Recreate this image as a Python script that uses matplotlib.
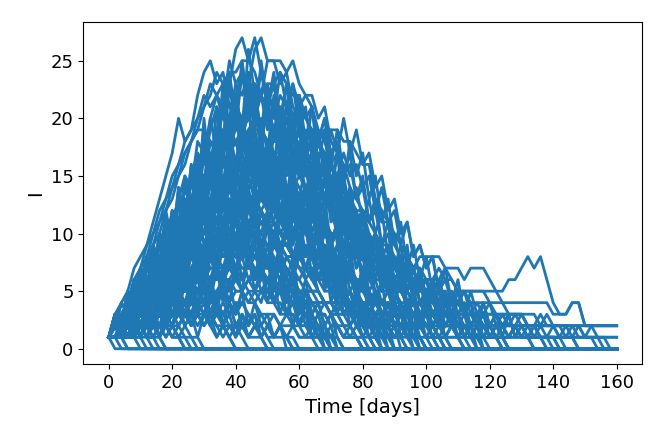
import numpy as np
import matplotlib
matplotlib.use("Agg")
import matplotlib.pyplot as plt

# infected count I per run, sampled every 2 days from day 0
# (after the last value a run just stays where it ended)
dt = 2
t_end = 160

run_01 = [1, 2, 2, 3, 5, 4, 6, 7, 9, 8, 11, 13, 12, 15, 17, 16, 19, 21, 20, 23,
          26, 27, 25, 27, 24, 22, 23, 20, 19, 17, 16, 14, 15, 12, 11, 9, 10, 8, 7, 6,
          5, 5, 4, 3, 3, 2, 2, 1, 1, 0]
run_02 = [1, 1, 2, 2, 3, 3, 4, 6, 5, 7, 8, 10, 9, 12, 14, 13, 16, 18, 17, 20,
          22, 24, 23, 26, 27, 25, 25, 23, 24, 21, 20, 18, 19, 16, 15, 13, 12, 10, 11, 9,
          8, 7, 6, 6, 5, 4, 3, 3, 2, 2, 1, 1, 1, 0]
run_03 = [1, 3, 4, 5, 7, 8, 9, 11, 13, 15, 17, 20, 18, 19, 22, 24, 25, 23, 24, 21,
          22, 19, 18, 17, 15, 14, 12, 11, 10, 8, 7, 7, 6, 5, 4, 4, 3, 2, 2, 1, 1, 0]
run_04 = [1, 1, 1, 2, 2, 3, 4, 4, 5, 6, 8, 9, 11, 10, 13, 14, 16, 15, 18, 19,
          21, 20, 22, 23, 22, 25, 25, 25, 24, 25, 23, 22, 21, 19, 18, 16, 17, 14, 13, 12,
          10, 9, 9, 7, 6, 5, 5, 4, 3, 3, 2, 2, 1, 1, 0]
run_05 = [1, 1, 2, 1, 2, 2, 3, 3, 4, 5, 5, 6, 7, 7, 8, 9, 10, 9, 11, 12,
          13, 12, 14, 15, 14, 16, 17, 16, 18, 17, 17, 18, 19, 18, 19, 19, 19, 18, 18, 17,
          16, 16, 13, 12, 11, 10, 9, 8, 7, 8, 8, 8, 8, 7, 7, 7, 6, 7, 7, 7,
          6, 5, 5, 6, 6, 7, 8, 7, 8, 6, 4, 3, 3, 4, 4, 2, 2, 2, 2, 2, 2]
run_06 = [1, 1, 2, 2, 3, 2, 4, 3, 5, 6, 5, 8, 7, 9, 11, 10, 13, 12, 14, 16,
          15, 18, 17, 20, 19, 21, 20, 22, 21, 23, 21, 22, 22, 20, 21, 18, 17, 16, 14, 13,
          12, 10, 9, 8, 7, 6, 5, 4, 3, 3, 2, 1, 1, 0]
run_07 = [1, 2, 3, 3, 5, 4, 7, 6, 9, 11, 10, 13, 15, 14, 18, 17, 20, 22, 21, 25,
          23, 24, 21, 22, 19, 18, 16, 17, 14, 12, 13, 10, 9, 8, 8, 6, 5, 4, 3, 3,
          2, 1, 1, 0]
run_08 = [1, 1, 2, 3, 3, 4, 6, 5, 7, 9, 8, 11, 13, 12, 15, 17, 16, 19, 21, 20,
          23, 22, 24, 21, 24, 22, 21, 19, 20, 17, 15, 16, 12, 13, 10, 9, 7, 8, 6, 5,
          4, 4, 3, 2, 2, 1, 1, 0]
run_09 = [1, 2, 3, 4, 6, 7, 9, 10, 12, 13, 15, 16, 18, 19, 20, 22, 21, 22, 20, 19,
          18, 16, 15, 13, 12, 11, 9, 8, 7, 6, 5, 5, 4, 3, 3, 2, 2, 1, 1, 1, 0]
run_10 = [1, 1, 2, 1, 3, 2, 4, 3, 5, 4, 7, 6, 9, 8, 11, 10, 13, 15, 14, 17,
          16, 19, 18, 20, 19, 21, 19, 21, 18, 20, 17, 18, 15, 16, 13, 12, 10, 11, 8, 9,
          6, 7, 5, 4, 5, 3, 2, 3, 1, 2, 1, 0]
run_11 = [1, 2, 1, 3, 4, 3, 6, 5, 8, 7, 10, 9, 12, 11, 14, 13, 16, 15, 18, 17,
          18, 16, 17, 14, 15, 12, 13, 10, 11, 8, 9, 6, 7, 5, 4, 4, 3, 2, 2, 1, 1, 1, 0]
run_12 = [1, 1, 2, 1, 2, 3, 2, 4, 3, 5, 4, 6, 5, 7, 6, 9, 8, 10, 9, 12,
          11, 13, 12, 14, 13, 16, 14, 16, 15, 17, 15, 16, 14, 15, 13, 14, 11, 12, 10, 9,
          10, 7, 8, 6, 7, 5, 6, 4, 3, 4, 3, 3, 2, 3, 3, 2, 2, 2, 2, 1, 1, 1, 0]
run_13 = [1, 3, 2, 4, 6, 5, 8, 7, 10, 9, 12, 11, 14, 13, 15, 14, 15, 12, 13, 10,
          11, 8, 9, 6, 7, 5, 4, 4, 3, 3, 2, 2, 1, 1, 0]
run_14 = [1, 2, 1, 2, 3, 2, 4, 3, 5, 4, 6, 5, 7, 6, 8, 7, 9, 8, 10, 9,
          11, 10, 12, 11, 12, 10, 11, 9, 10, 8, 9, 7, 8, 6, 7, 5, 6, 4, 5, 3,
          4, 2, 3, 2, 1, 2, 1, 0]
run_15 = [1, 2, 1, 3, 2, 4, 3, 5, 4, 6, 5, 7, 6, 8, 7, 9, 8, 10, 9, 10,
          9, 10, 8, 9, 7, 8, 6, 7, 5, 6, 4, 5, 3, 4, 2, 3, 2, 1, 2, 1, 0]
run_16 = [1, 1, 1, 2, 2, 2, 3, 3, 3, 4, 4, 5, 5, 5, 6, 6, 7, 7, 6, 7,
          6, 6, 5, 5, 5, 4, 4, 3, 3, 3, 2, 2, 2, 1, 1, 1, 0]
run_17 = [1, 2, 2, 2, 3, 3, 3, 4, 4, 4, 5, 5, 4, 5, 4, 4, 3, 3, 3, 2,
          2, 2, 1, 1, 1, 0]
run_18 = [1, 0]
run_19 = [1, 2, 1, 0]
run_20 = [1, 1, 2, 2, 1, 1, 0]
run_21 = [1, 2, 3, 2, 3, 2, 1, 1, 0]
run_22 = [1, 1, 0]
run_23 = [1, 1, 2, 2, 3, 3, 4, 4, 5, 5, 6, 6, 7, 8, 8, 9, 9, 10, 10, 11,
          11, 12, 12, 12, 13, 12, 13, 12, 12, 11, 11, 10, 10, 9, 9, 8, 8, 7, 7, 6,
          6, 6, 5, 5, 5, 4, 4, 4, 3, 3, 3, 3, 3, 2, 2, 2, 2, 2, 2, 2,
          2, 2, 2, 1, 2, 2, 2, 2, 2, 2, 2, 2, 2, 2, 2, 2, 2, 2, 2, 2, 2]
run_24 = [1, 2, 2, 3, 4, 5, 5, 6, 7, 8, 9, 10, 11, 11, 12, 13, 13, 14, 14, 14,
          13, 13, 12, 12, 11, 10, 10, 9, 8, 8, 7, 7, 6, 6, 5, 5, 4, 4, 4, 3,
          3, 3, 3, 4, 3, 3, 3, 2, 3, 3, 3, 3, 3, 3, 3, 3, 3, 3, 3, 3,
          3, 3, 2, 2, 2, 2, 2, 2, 1, 1, 1, 1, 2, 2, 1, 1, 1, 1, 1, 1, 1]
run_25 = [1, 1, 2, 2, 3, 3, 4, 5, 5, 6, 7, 8, 9, 10, 11, 11, 12, 13, 13, 14,
          15, 15, 16, 16, 17, 17, 18, 18, 17, 18, 17, 17, 16, 15, 15, 14, 13, 12, 11, 11,
          10, 9, 9, 8, 8, 7, 7, 6, 6, 6, 5, 6, 6, 7, 6, 5, 5, 5, 5, 5,
          4, 4, 4, 4, 4, 4, 4, 4, 4, 4, 3, 3, 3, 4, 4, 2, 2, 1, 1, 0]
run_26 = [1, 1, 1, 2, 2, 3, 3, 3, 4, 5, 5, 6, 7, 7, 8, 9, 10, 11, 11, 12,
          13, 14, 14, 15, 16, 16, 17, 17, 18, 18, 19, 18, 17, 18, 17, 16, 15, 14, 13, 12,
          12, 11, 10, 9, 9, 8, 7, 7, 6, 6, 6, 6, 7, 6, 6, 5, 5, 5, 5, 5,
          5, 5, 4, 3, 3, 3, 2, 2, 2, 2, 2, 1, 1, 1, 0]
run_27 = [1, 1, 2, 3, 4, 4, 5, 6, 7, 8, 9, 11, 12, 12, 13, 15, 16, 16, 17, 18,
          19, 19, 20, 19, 19, 18, 17, 17, 16, 15, 14, 13, 13, 12, 11, 10, 10, 9, 8, 8,
          7, 7, 6, 6, 5, 5, 5, 4, 4, 4, 4, 3, 3, 3, 4, 4, 3, 3, 3, 3,
          3, 3, 3, 3, 3, 3, 2, 2, 2, 2, 2, 2, 2, 2, 2, 1, 2, 2, 2, 2, 2]
run_28 = [1, 2, 2, 4, 5, 6, 8, 9, 11, 12, 14, 15, 17, 18, 20, 21, 23, 22, 23, 21,
          20, 19, 17, 16, 14, 13, 11, 10, 9, 8, 7, 6, 5, 4, 4, 3, 2, 2, 1, 1, 0]
run_29 = [1, 1, 1, 2, 2, 3, 4, 4, 5, 6, 7, 8, 9, 10, 11, 12, 14, 15, 16, 17,
          18, 18, 19, 20, 19, 20, 18, 18, 17, 16, 15, 14, 13, 12, 10, 9, 8, 8, 7, 6,
          5, 4, 4, 3, 3, 2, 2, 1, 1, 0]
run_30 = [1, 1, 1, 1, 2, 2, 2, 3, 3, 4, 4, 5, 5, 6, 7, 7, 8, 9, 10, 10,
          11, 12, 13, 13, 14, 15, 15, 16, 16, 17, 17, 17, 16, 16, 15, 14, 14, 13, 12, 11,
          10, 9, 8, 8, 7, 6, 5, 5, 4, 4, 3, 3, 2, 2, 2, 1, 1, 0]
run_31 = [1, 2, 3, 4, 5, 7, 8, 10, 11, 13, 14, 16, 17, 18, 19, 19, 18, 17, 16, 15,
          13, 12, 11, 10, 9, 8, 7, 6, 5, 4, 4, 3, 3, 2, 2, 1, 1, 0]
run_32 = [1, 1, 2, 3, 3, 4, 5, 6, 6, 7, 8, 9, 10, 10, 11, 12, 12, 13, 13, 13,
          12, 12, 11, 10, 10, 9, 8, 7, 6, 6, 5, 4, 4, 3, 3, 2, 2, 1, 1, 1, 0]
run_33 = [1, 1, 1, 1, 2, 2, 2, 3, 3, 3, 3, 4, 4, 5, 5, 5, 6, 6, 7, 7,
          7, 8, 8, 8, 9, 9, 9, 9, 8, 8, 8, 7, 7, 6, 6, 6, 5, 5, 4, 4,
          4, 3, 3, 3, 2, 2, 2, 1, 1, 1, 0]
run_34 = [1, 1, 2, 2, 3, 4, 5, 5, 6, 7, 9, 10, 11, 12, 14, 15, 16, 17, 18, 19,
          20, 20, 21, 20, 19, 18, 17, 16, 14, 13, 12, 10, 9, 8, 7, 6, 5, 4, 4, 3,
          3, 2, 2, 1, 1, 0]
run_35 = [1, 2, 3, 4, 5, 6, 7, 9, 10, 12, 13, 15, 16, 18, 19, 21, 22, 24, 23, 24,
          24, 25, 25, 24, 22, 21, 19, 18, 16, 15, 13, 12, 10, 9, 8, 7, 6, 5, 4, 3,
          3, 2, 2, 1, 1, 0]
run_36 = [1, 1, 1, 1, 1, 2, 2, 2, 2, 3, 3, 3, 4, 4, 4, 5, 5, 5, 6, 6,
          7, 7, 7, 8, 8, 8, 9, 9, 9, 10, 10, 10, 11, 11, 11, 10, 10, 10, 9, 9,
          8, 8, 7, 7, 6, 6, 5, 5, 4, 4, 4, 3, 3, 3, 2, 2, 2, 2, 1, 1,
          1, 1, 0]
run_37 = [1, 1, 1, 1, 2, 2, 2, 2, 3, 3, 3, 4, 4, 5, 5, 6, 6, 7, 7, 8,
          9, 9, 10, 10, 11, 11, 12, 12, 13, 13, 13, 14, 14, 14, 13, 13, 12, 12, 11, 10,
          9, 9, 8, 7, 7, 6, 5, 5, 4, 4, 3, 3, 3, 2, 2, 2, 1, 1, 1, 0]
run_38 = [1, 1, 2, 2, 3, 3, 4, 4, 5, 5, 6, 6, 7, 7, 8, 8, 7, 7, 6, 6,
          5, 5, 4, 4, 3, 3, 3, 2, 2, 2, 1, 1, 1, 0]
run_39 = [1, 1, 1, 2, 2, 3, 3, 4, 5, 6, 6, 7, 8, 9, 11, 12, 13, 14, 16, 17,
          18, 19, 20, 21, 22, 23, 23, 24, 23, 22, 22, 20, 19, 18, 16, 15, 13, 12, 11, 10,
          9, 8, 7, 6, 5, 5, 4, 3, 3, 2, 2, 1, 1, 0]
run_40 = [1, 1, 2, 2, 2, 3, 3, 3, 4, 4, 4, 3, 3, 4, 3, 3, 3, 2, 2, 2,
          2, 2, 1, 2, 2, 1, 1, 1, 1, 0]
run_41 = [1, 1, 1, 2, 2, 2, 3, 3, 4, 4, 5, 5, 6, 6, 7, 8, 8, 9, 9, 10,
          10, 11, 12, 12, 12, 13, 13, 14, 14, 14, 15, 14, 14, 13, 13, 12, 12, 11, 11, 10,
          9, 9, 8, 8, 7, 7, 6, 6, 5, 5, 5, 4, 5, 4, 4, 4, 5, 4, 4, 4,
          4, 3, 3, 3, 3, 3, 3, 3, 2, 3, 2, 2, 2, 1, 1, 1, 1, 1, 0]
run_42 = [1, 1, 2, 2, 3, 3, 3, 4, 5, 5, 6, 7, 7, 8, 9, 10, 10, 11, 12, 12,
          13, 13, 14, 14, 15, 15, 15, 15, 14, 14, 13, 13, 12, 12, 11, 10, 10, 9, 9, 8,
          8, 7, 7, 6, 6, 5, 5, 5, 4, 4, 4, 4, 3, 3, 3, 4, 3, 3, 3, 2,
          2, 2, 3, 2, 2, 2, 1, 1, 1, 1, 1, 0]
run_43 = [1, 3, 2, 5, 3, 6, 4, 8, 5, 9, 7, 11, 8, 13, 10, 15, 12, 17, 14, 19,
          16, 20, 17, 19, 15, 18, 13, 16, 11, 14, 9, 12, 8, 10, 6, 8, 4, 6, 3, 4,
          2, 3, 1, 2, 0]
run_44 = [1, 2, 1, 3, 2, 4, 3, 6, 4, 7, 5, 9, 7, 11, 9, 13, 11, 15, 13, 17,
          15, 19, 17, 21, 19, 23, 20, 24, 21, 23, 19, 21, 17, 19, 15, 17, 12, 14, 10, 12,
          8, 10, 6, 8, 5, 6, 3, 4, 2, 3, 1, 1, 0]
run_45 = [1, 1, 2, 1, 3, 2, 3, 2, 4, 3, 5, 4, 6, 5, 8, 6, 9, 7, 10, 9,
          12, 10, 13, 11, 15, 12, 16, 14, 17, 15, 18, 16, 17, 15, 16, 14, 15, 12, 14, 11,
          12, 9, 10, 8, 9, 6, 7, 5, 6, 4, 5, 3, 4, 2, 3, 1, 2, 1, 0]
run_46 = [1, 3, 2, 4, 3, 6, 4, 7, 6, 9, 7, 11, 9, 13, 11, 15, 12, 14, 10, 13,
          9, 11, 7, 9, 6, 8, 4, 6, 3, 5, 2, 3, 1, 2, 1, 0]
run_47 = [1, 2, 4, 3, 6, 5, 8, 6, 10, 8, 12, 10, 14, 12, 16, 14, 18, 17, 21, 18,
          20, 17, 19, 15, 17, 13, 15, 11, 13, 9, 11, 8, 9, 6, 7, 5, 6, 3, 4, 2,
          3, 1, 2, 0]
run_48 = [1, 1, 1, 2, 1, 2, 2, 3, 2, 3, 3, 4, 3, 5, 4, 6, 5, 7, 6, 8,
          7, 9, 8, 10, 8, 11, 9, 12, 10, 12, 11, 13, 11, 13, 12, 13, 11, 12, 10, 11,
          9, 10, 8, 9, 6, 8, 5, 7, 4, 6, 3, 5, 2, 4, 2, 3, 1, 2, 1, 0]
run_49 = [1, 2, 3, 2, 5, 3, 6, 5, 8, 6, 10, 8, 12, 10, 14, 12, 16, 14, 19, 16,
          21, 18, 23, 20, 22, 19, 21, 17, 19, 15, 17, 13, 15, 11, 13, 9, 11, 7, 9, 5,
          7, 4, 5, 3, 4, 2, 2, 1, 0]
run_50 = [1, 2, 1, 3, 2, 4, 3, 5, 4, 6, 5, 7, 6, 8, 7, 9, 8, 10, 8, 9,
          7, 8, 6, 7, 5, 6, 4, 5, 3, 4, 2, 3, 1, 2, 0]
run_51 = [1, 1, 2, 1, 3, 2, 4, 3, 5, 4, 6, 5, 8, 6, 9, 8, 11, 9, 13, 11,
          14, 12, 16, 14, 17, 15, 19, 17, 20, 18, 19, 17, 18, 15, 17, 13, 15, 12, 13, 10,
          11, 8, 10, 7, 8, 5, 7, 4, 5, 3, 4, 2, 3, 1, 2, 1, 0]
run_52 = [1, 1, 1, 2, 1, 2, 2, 3, 2, 4, 3, 4, 3, 5, 4, 6, 5, 7, 6, 8,
          7, 9, 8, 10, 9, 11, 10, 12, 11, 13, 12, 14, 13, 15, 14, 16, 15, 17, 15, 16,
          14, 15, 12, 14, 11, 12, 9, 11, 8, 9, 7, 8, 5, 7, 4, 6, 3, 5, 3, 4,
          2, 3, 2, 3, 1, 2, 1, 0]
run_53 = [1, 2, 1, 3, 2, 4, 3, 5, 4, 6, 4, 5, 3, 5, 3, 4, 2, 4, 2, 3,
          1, 3, 2, 3, 1, 2, 1, 2, 1, 0]
run_54 = [1, 3, 2, 5, 4, 7, 5, 9, 7, 11, 9, 14, 11, 16, 13, 19, 15, 21, 18, 24,
          20, 25, 21, 23, 18, 21, 16, 19, 13, 16, 11, 13, 9, 11, 7, 9, 5, 6, 3, 4,
          2, 3, 1, 0]
run_55 = [1, 2, 1, 3, 2, 5, 3, 6, 4, 8, 6, 9, 7, 11, 9, 13, 10, 14, 12, 16,
          14, 17, 15, 19, 16, 18, 15, 17, 13, 15, 11, 14, 10, 12, 8, 10, 6, 8, 5, 6,
          3, 5, 2, 3, 1, 2, 0]
run_56 = [1, 1, 2, 1, 3, 2, 3, 2, 4, 3, 5, 4, 6, 5, 7, 6, 8, 7, 9, 8,
          10, 9, 11, 9, 12, 10, 11, 9, 10, 8, 9, 7, 8, 6, 7, 5, 6, 4, 5, 3,
          4, 2, 3, 1, 2, 0]
run_57 = [1, 2, 3, 2, 4, 3, 5, 4, 7, 5, 8, 7, 10, 8, 11, 10, 13, 11, 14, 12,
          15, 13, 16, 14, 15, 12, 14, 11, 13, 10, 11, 8, 10, 7, 8, 5, 7, 4, 5, 3,
          4, 2, 3, 1, 0]
run_58 = [1, 1, 2, 1, 2, 2, 3, 2, 4, 3, 5, 4, 7, 5, 8, 7, 10, 8, 11, 10,
          13, 11, 15, 13, 17, 15, 19, 17, 21, 19, 22, 20, 21, 18, 20, 17, 18, 15, 16, 13,
          14, 11, 12, 9, 10, 7, 8, 6, 7, 5, 6, 4, 5, 3, 4, 2, 3, 1, 2, 0]
run_59 = [1, 1, 1, 1, 2, 1, 2, 2, 3, 2, 3, 3, 4, 3, 4, 4, 5, 4, 5, 5,
          6, 5, 6, 6, 7, 6, 7, 7, 8, 7, 8, 7, 8, 8, 9, 8, 9, 8, 9, 8,
          9, 7, 8, 7, 8, 6, 7, 6, 7, 5, 6, 5, 6, 4, 5, 4, 5, 3, 4, 3,
          4, 2, 3, 2, 3, 2, 2, 1, 2, 1, 1, 0]
run_60 = [1, 1, 2, 1, 2, 3, 2, 3, 4, 3, 4, 5, 4, 5, 4, 5, 3, 4, 3, 4,
          2, 3, 2, 3, 1, 2, 1, 2, 1, 1, 0]
run_61 = [1, 3, 2, 5, 4, 7, 5, 9, 7, 11, 9, 13, 11, 15, 13, 17, 14, 16, 12, 15,
          11, 13, 9, 11, 7, 9, 6, 7, 4, 6, 3, 4, 2, 3, 1, 2, 0]
run_62 = [1, 1, 2, 1, 3, 2, 4, 2, 4, 3, 5, 3, 6, 4, 7, 5, 8, 6, 9, 7,
          10, 8, 11, 9, 12, 10, 13, 11, 14, 12, 13, 11, 13, 10, 12, 9, 11, 8, 10, 7,
          9, 6, 8, 5, 7, 4, 6, 3, 5, 2, 4, 2, 3, 1, 2, 1, 0]
run_63 = [1, 2, 4, 3, 5, 4, 7, 6, 9, 7, 11, 9, 13, 11, 15, 13, 17, 15, 19, 17,
          22, 19, 26, 22, 24, 21, 23, 19, 21, 17, 19, 15, 17, 13, 15, 11, 12, 9, 10, 7,
          8, 5, 6, 4, 5, 3, 3, 2, 2, 1, 0]
run_64 = [1, 1, 1, 1, 1, 2, 1, 2, 2, 2, 3, 2, 3, 3, 4, 3, 4, 4, 5, 4,
          5, 5, 6, 5, 6, 6, 7, 6, 8, 7, 9, 8, 10, 9, 10, 9, 11, 9, 11, 10,
          11, 9, 10, 8, 9, 7, 8, 6, 7, 5, 6, 4, 5, 3, 4, 3, 4, 2, 3, 2,
          2, 1, 1, 0]
run_65 = [1, 1, 1, 2, 1, 2, 2, 3, 3, 4, 3, 5, 4, 6, 5, 7, 6, 8, 7, 9,
          8, 10, 9, 11, 10, 12, 11, 14, 12, 15, 13, 16, 15, 18, 16, 19, 17, 20, 17, 19,
          16, 17, 14, 15, 12, 13, 10, 11, 8, 9, 7, 8, 5, 6, 4, 5, 3, 4, 2, 3,
          1, 2, 1, 0]
run_66 = [1, 2, 3, 2, 4, 3, 5, 4, 6, 5, 8, 6, 7, 5, 6, 4, 6, 4, 5, 3,
          4, 2, 3, 2, 2, 1, 0]
run_67 = [1, 1, 2, 2, 3, 3, 4, 5, 6, 6, 7, 8, 9, 9, 10, 11, 11, 12, 12, 13,
          12, 13, 12, 11, 11, 10, 10, 9, 9, 8, 8, 7, 7, 6, 6, 5, 5, 4, 5, 4,
          4, 3, 4, 3, 3, 3, 2, 3, 2, 3, 2, 2, 3, 2, 2, 1, 2, 2, 1, 2,
          1, 2, 2, 1, 2, 1, 1, 2, 1, 1, 2, 1, 1, 1, 2, 1, 1, 1, 1, 1, 1]
run_68 = [1, 2, 2, 3, 4, 5, 6, 7, 8, 9, 10, 11, 12, 13, 14, 15, 15, 16, 16, 15,
          15, 14, 13, 13, 12, 11, 10, 10, 9, 8, 8, 7, 7, 6, 6, 5, 5, 5, 4, 4,
          4, 3, 4, 3, 3, 4, 3, 3, 2, 3, 3, 2, 3, 3, 2, 3, 2, 2, 3, 2,
          2, 3, 2, 2, 2, 3, 2, 2, 3, 2, 2, 2, 1, 2, 2, 2, 2, 2, 2, 2, 2]
run_69 = [1, 1, 1, 2, 2, 2, 3, 3, 4, 4, 5, 5, 6, 6, 7, 7, 8, 8, 9, 9,
          10, 10, 10, 11, 11, 11, 11, 10, 10, 10, 9, 9, 8, 8, 7, 7, 6, 6, 6, 5,
          5, 5, 4, 4, 4, 3, 4, 3, 3, 3, 2, 3, 2, 2, 2, 2, 1, 2, 1, 1,
          2, 1, 1, 1, 2, 1, 1, 1, 1, 1, 1, 1, 1, 1, 0]
run_70 = [1, 2, 2, 3, 3, 4, 5, 5, 6, 7, 7, 8, 9, 9, 10, 10, 11, 11, 11, 10,
          10, 9, 9, 8, 8, 7, 7, 6, 6, 5, 5, 5, 4, 4, 4, 3, 3, 3, 3, 2,
          3, 2, 2, 2, 2, 1, 2, 2, 1, 2, 1, 1, 2, 1, 1, 1, 2, 1, 1, 1,
          1, 1, 1, 1, 1, 1, 1, 1, 1, 0]
run_71 = [1, 2, 1, 2, 3, 2, 1, 2, 1, 0]
run_72 = [1, 2, 3, 4, 3, 4, 3, 2, 3, 2, 1, 2, 1, 0]
run_73 = [1, 1, 2, 1, 1, 0]
run_74 = [1, 3, 1, 4, 2, 6, 3, 8, 5, 10, 7, 13, 9, 15, 11, 18, 14, 21, 16, 23,
          19, 24, 20, 23, 18, 22, 16, 20, 13, 17, 11, 14, 8, 11, 6, 9, 4, 7, 3, 5,
          2, 3, 1, 0]
run_75 = [1, 2, 1, 3, 1, 4, 2, 5, 3, 7, 4, 9, 6, 11, 8, 13, 10, 15, 12, 17,
          14, 19, 16, 21, 17, 22, 18, 21, 17, 20, 15, 19, 13, 17, 11, 15, 9, 12, 7, 10,
          5, 8, 4, 6, 2, 4, 1, 2, 0]
run_76 = [1, 3, 2, 5, 3, 7, 4, 9, 6, 11, 8, 13, 10, 15, 12, 17, 14, 18, 13, 16,
          11, 15, 9, 13, 7, 11, 5, 8, 4, 6, 2, 4, 1, 2, 0]
run_77 = [1, 1, 2, 1, 2, 1, 3, 2, 4, 2, 5, 3, 6, 4, 8, 5, 9, 7, 11, 8,
          12, 10, 14, 11, 15, 13, 17, 14, 18, 16, 20, 17, 21, 18, 20, 16, 19, 15, 17, 13,
          15, 11, 13, 9, 11, 7, 9, 5, 7, 4, 5, 3, 4, 2, 3, 1, 0]
run_78 = [1, 1, 1, 2, 1, 2, 1, 3, 2, 3, 2, 4, 3, 5, 3, 6, 4, 7, 5, 8,
          6, 9, 7, 10, 8, 11, 9, 12, 10, 13, 11, 14, 12, 15, 13, 16, 14, 15, 12, 14,
          11, 13, 10, 12, 8, 10, 7, 9, 5, 7, 4, 6, 3, 5, 2, 3, 1, 2, 0]
run_79 = [1, 2, 1, 3, 1, 4, 2, 5, 3, 6, 4, 7, 5, 6, 4, 6, 3, 5, 2, 4,
          2, 3, 1, 2, 1, 0]
run_80 = [1, 1, 2, 1, 3, 1, 2, 3, 1, 3, 2, 4, 2, 3, 1, 3, 2, 1, 2, 1, 0]
run_81 = [1, 2, 1, 3, 2, 4, 3, 6, 4, 7, 5, 9, 6, 10, 8, 12, 9, 13, 11, 14,
          12, 13, 10, 12, 9, 11, 7, 9, 6, 8, 4, 6, 3, 4, 2, 3, 1, 0]
run_82 = [1, 3, 2, 5, 4, 7, 5, 9, 7, 12, 9, 14, 11, 16, 13, 20, 15, 19, 14, 17,
          12, 16, 10, 14, 8, 12, 6, 9, 5, 7, 3, 5, 2, 3, 1, 0]
run_83 = [1, 1, 2, 1, 3, 2, 4, 3, 5, 4, 7, 5, 8, 6, 10, 8, 12, 10, 14, 11,
          16, 13, 18, 15, 20, 17, 22, 19, 23, 20, 22, 18, 21, 16, 19, 14, 17, 12, 14, 10,
          12, 8, 10, 6, 8, 4, 6, 3, 4, 2, 3, 1, 0]
run_84 = [1, 2, 3, 2, 4, 3, 6, 4, 7, 5, 9, 6, 10, 8, 12, 9, 11, 8, 10, 7,
          9, 6, 8, 5, 7, 4, 6, 3, 5, 2, 4, 2, 3, 1, 2, 0]
run_85 = [1, 1, 1, 1, 2, 1, 2, 1, 2, 2, 3, 2, 3, 2, 4, 3, 5, 3, 6, 4,
          7, 5, 8, 6, 9, 7, 10, 8, 11, 9, 13, 10, 14, 12, 15, 13, 17, 14, 18, 15,
          17, 13, 15, 11, 13, 9, 11, 7, 9, 6, 8, 5, 6, 4, 5, 3, 4, 2, 3, 1,
          2, 1, 0]
run_86 = [1, 1, 2, 1, 2, 1, 3, 2, 3, 2, 4, 3, 4, 3, 5, 4, 6, 4, 7, 5,
          7, 6, 8, 6, 9, 7, 9, 8, 10, 8, 10, 8, 9, 7, 9, 6, 8, 5, 7, 4,
          6, 3, 5, 2, 4, 2, 3, 1, 2, 1, 0]
run_87 = [1, 2, 4, 3, 6, 4, 8, 6, 10, 8, 12, 10, 15, 12, 17, 14, 20, 17, 23, 19,
          22, 18, 21, 16, 19, 14, 17, 12, 14, 10, 12, 8, 10, 6, 8, 4, 6, 3, 4, 2,
          2, 1, 0]
run_88 = [1, 1, 2, 1, 3, 2, 4, 3, 5, 3, 6, 4, 7, 5, 8, 6, 9, 7, 11, 8,
          12, 9, 13, 11, 14, 12, 15, 12, 14, 11, 13, 10, 12, 9, 11, 7, 9, 6, 8, 5,
          6, 4, 5, 3, 4, 2, 3, 1, 2, 0]
run_89 = [1, 1, 1, 1, 1, 2, 1, 2, 1, 2, 2, 3, 2, 3, 2, 3, 3, 4, 3, 4,
          3, 5, 4, 5, 4, 6, 5, 6, 5, 7, 6, 7, 6, 8, 7, 8, 7, 9, 8, 9,
          8, 9, 8, 9, 7, 8, 6, 8, 5, 7, 4, 6, 4, 5, 3, 5, 3, 4, 2, 4,
          2, 3, 1, 3, 1, 2, 1, 2, 1, 0]
run_90 = [1, 2, 1, 2, 3, 2, 3, 4, 3, 4, 3, 4, 3, 2, 3, 2, 3, 2, 1, 2,
          1, 2, 1, 2, 1, 2, 1, 2, 1, 2, 1, 1, 1, 1, 1, 0]
run_91 = [1, 1, 2, 3, 2, 3, 4, 3, 5, 4, 5, 6, 5, 6, 5, 4, 5, 4, 3, 4,
          3, 4, 3, 2, 3, 2, 3, 2, 3, 2, 2, 1, 2, 1, 2, 1, 2, 1, 1, 2,
          1, 2, 1, 1, 1, 1, 1, 1, 1, 1, 0]
run_92 = [1, 2, 2, 3, 4, 4, 5, 6, 6, 7, 8, 8, 9, 9, 10, 10, 11, 10, 10, 9,
          9, 8, 8, 7, 7, 6, 6, 5, 5, 5, 4, 4, 4, 3, 4, 3, 3, 3, 2, 3,
          2, 3, 2, 2, 2, 1, 2, 1, 2, 1, 1, 2, 1, 1, 1, 1, 1, 1, 1, 1, 0]
run_93 = [1, 1, 2, 2, 3, 3, 4, 5, 5, 6, 7, 7, 8, 9, 9, 10, 10, 11, 11, 12,
          12, 12, 12, 11, 11, 10, 10, 9, 9, 8, 8, 7, 7, 6, 6, 6, 5, 5, 5, 4,
          4, 4, 4, 3, 3, 3, 3, 3, 2, 3, 2, 2, 3, 2, 2, 2, 2, 1, 2, 2,
          1, 2, 1, 1, 2, 1, 1, 1, 1, 1, 1, 1, 0]
run_94 = [1, 3, 2, 4, 2, 5, 3, 7, 4, 8, 6, 10, 7, 12, 9, 14, 11, 16, 12, 18,
          14, 19, 15, 18, 13, 17, 12, 15, 10, 13, 8, 11, 6, 9, 5, 7, 3, 5, 2, 3,
          1, 0]
run_95 = [1, 1, 3, 2, 4, 3, 5, 4, 7, 5, 9, 7, 11, 9, 13, 11, 15, 13, 17, 15,
          20, 17, 22, 19, 25, 21, 24, 20, 23, 18, 21, 16, 19, 14, 17, 12, 14, 10, 12, 8,
          10, 6, 8, 5, 6, 3, 4, 2, 3, 1, 0]
run_96 = [1, 2, 3, 2, 4, 3, 5, 4, 6, 4, 5, 3, 4, 2, 3, 2, 3, 1, 2, 1, 0]
run_97 = [1, 3, 2, 5, 3, 7, 5, 9, 7, 11, 8, 10, 7, 9, 6, 8, 5, 7, 4, 6,
          3, 5, 2, 4, 2, 3, 1, 2, 0]
run_98 = [1, 1, 1, 1, 1, 1, 2, 1, 2, 1, 2, 2, 3, 2, 3, 2, 3, 3, 4, 3,
          4, 4, 5, 4, 5, 5, 6, 5, 7, 6, 8, 7, 9, 8, 10, 9, 11, 10, 12, 11,
          12, 11, 13, 11, 11, 9, 8, 8, 7, 7, 6, 6, 5, 5, 4, 4, 3, 3, 2, 2,
          2, 1, 1, 0]
run_99 = [1, 2, 3, 2, 3, 4, 3, 5, 4, 3, 4, 5, 4, 3, 4, 3, 2, 3, 2, 1,
          2, 1, 0]
run_100 = [1, 2, 3, 3, 4, 5, 6, 7, 8, 9, 11, 10, 13, 12, 15, 14, 17, 16, 19, 18,
           20, 18, 19, 16, 17, 14, 15, 12, 13, 10, 11, 8, 9, 7, 7, 5, 5, 4, 3, 3,
           2, 1, 1, 0]
run_101 = [1, 1, 1, 2, 2, 3, 3, 4, 4, 5, 6, 5, 7, 6, 8, 7, 9, 8, 11, 9,
           12, 10, 13, 11, 14, 12, 15, 13, 16, 14, 17, 15, 16, 13, 15, 12, 14, 11, 12, 9,
           10, 8, 9, 6, 7, 5, 6, 4, 4, 3, 3, 2, 1, 1, 0]
run_102 = [1, 1, 1, 0]
run_103 = [1, 2, 2, 1, 2, 1, 1, 0]
run_104 = [1, 1, 2, 1, 1, 2, 1, 1, 1, 0]
run_105 = [1, 2, 1, 2, 2, 3, 2, 2, 1, 2, 1, 1, 0]
run_106 = [1, 1, 1, 2, 1, 2, 1, 1, 2, 1, 2, 1, 1, 1, 0]
run_107 = [1, 2, 3, 2, 2, 3, 2, 1, 2, 2, 1, 1, 0]
run_108 = [1, 1, 2, 2, 1, 2, 3, 2, 3, 2, 2, 1, 2, 1, 1, 0]
run_109 = [1, 2, 2, 3, 3, 4, 5, 5, 6, 6, 7, 7, 8, 8, 8, 9, 9, 9, 8, 8,
           8, 7, 7, 7, 6, 6, 6, 5, 5, 5, 5, 4, 4, 4, 4, 3, 4, 3, 3, 3,
           3, 2, 3, 3, 2, 3, 2, 2, 3, 2, 2, 2, 1, 2, 2, 1, 2, 1, 1, 2,
           1, 1, 1, 1, 2, 1, 1, 0]
run_110 = [1, 1, 2, 2, 3, 3, 3, 4, 4, 5, 5, 6, 6, 7, 7, 7, 8, 8, 8, 8,
           9, 9, 8, 8, 8, 7, 7, 7, 6, 6, 6, 5, 5, 5, 4, 4, 4, 4, 3, 3,
           3, 3, 3, 3, 2, 2, 3, 2, 2, 2, 2, 2, 2, 1, 2, 2, 2, 1, 2, 2,
           1, 1, 2, 1, 1, 1, 2, 1, 1, 1, 1, 1, 1, 1, 1, 1, 1, 0]
run_111 = [1, 2, 3, 3, 4, 5, 6, 6, 7, 8, 9, 9, 10, 10, 11, 11, 11, 10, 10, 10,
           9, 9, 8, 8, 7, 7, 7, 6, 6, 6, 5, 5, 5, 5, 4, 4, 4, 4, 4, 4,
           3, 4, 4, 3, 3, 3, 3, 3, 3, 3, 3, 3, 3, 2, 3, 3, 3, 2, 2, 3,
           2, 2, 2, 2, 2, 1, 1, 1, 1, 1, 0]

runs = [run_01, run_02, run_03, run_04, run_05, run_06, run_07, run_08, run_09,
        run_10, run_11, run_12, run_13, run_14, run_15, run_16, run_17, run_18,
        run_19, run_20, run_21, run_22, run_23, run_24, run_25, run_26, run_27,
        run_28, run_29, run_30, run_31, run_32, run_33, run_34, run_35, run_36,
        run_37, run_38, run_39, run_40, run_41, run_42, run_43, run_44, run_45,
        run_46, run_47, run_48, run_49, run_50, run_51, run_52, run_53, run_54,
        run_55, run_56, run_57, run_58, run_59, run_60, run_61, run_62, run_63,
        run_64, run_65, run_66, run_67, run_68, run_69, run_70, run_71, run_72,
        run_73, run_74, run_75, run_76, run_77, run_78, run_79, run_80, run_81,
        run_82, run_83, run_84, run_85, run_86, run_87, run_88, run_89, run_90,
        run_91, run_92, run_93, run_94, run_95, run_96, run_97, run_98, run_99,
        run_100, run_101, run_102, run_103, run_104, run_105, run_106, run_107,
        run_108, run_109, run_110, run_111]

plt.rcParams.update({
    'font.size': 13,
    'axes.labelsize': 14,
    'xtick.labelsize': 13,
    'ytick.labelsize': 13,
})

fig, ax = plt.subplots(figsize=(6.64, 4.43), dpi=100)
fig.subplots_adjust(left=0.1255, right=0.967, top=0.950, bottom=0.1776)

t_full = np.arange(0, t_end + 1, dt)
for r in runs:
    # hold last value until the end of the simulation
    y = np.full(len(t_full), r[-1])
    y[:len(r)] = r
    ax.plot(t_full, y, color='C0', linewidth=2)

ax.set_xlabel('Time [days]')
ax.set_ylabel('I')
ax.set_xticks([0, 20, 40, 60, 80, 100, 120, 140, 160])
ax.set_yticks([0, 5, 10, 15, 20, 25])

fig.savefig('out.png', dpi=100)
